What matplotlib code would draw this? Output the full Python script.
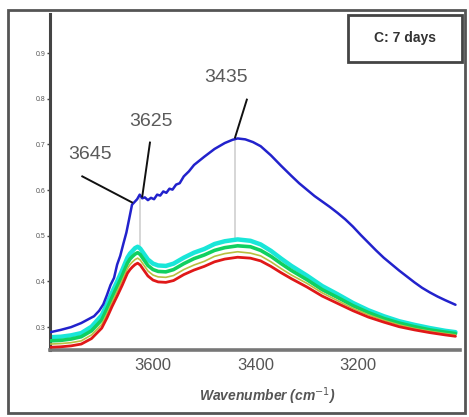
import matplotlib
matplotlib.use('Agg')
import matplotlib.pyplot as plt
from matplotlib.patches import Rectangle

plt.rcParams['font.family'] = ['Liberation Sans', 'DejaVu Sans']

# wavenumber grid shared by the four lower spectra (cm-1)
wn = [3800, 3780, 3760, 3740, 3720, 3700, 3690, 3680, 3670, 3660, 3650, 3645,
      3640, 3635, 3630, 3625, 3620, 3610, 3600, 3590, 3575, 3560, 3540, 3520,
      3500, 3480, 3460, 3435, 3410, 3390, 3370, 3350, 3330, 3300, 3270, 3240,
      3210, 3180, 3150, 3120, 3090, 3060, 3030, 3010]

cyan_abs = [0.278, 0.279, 0.282, 0.287, 0.301, 0.326, 0.350, 0.376, 0.400, 0.425,
            0.452, 0.461, 0.467, 0.473, 0.476, 0.472, 0.464, 0.448, 0.439, 0.435,
            0.434, 0.439, 0.452, 0.463, 0.471, 0.482, 0.488, 0.492, 0.489, 0.481,
            0.467, 0.450, 0.434, 0.413, 0.390, 0.372, 0.353, 0.337, 0.324, 0.313,
            0.305, 0.298, 0.292, 0.289]
green_abs = [0.270, 0.271, 0.274, 0.279, 0.292, 0.316, 0.340, 0.365, 0.389, 0.413,
             0.440, 0.449, 0.455, 0.460, 0.463, 0.459, 0.451, 0.435, 0.426, 0.422,
             0.421, 0.426, 0.439, 0.450, 0.458, 0.468, 0.474, 0.478, 0.476, 0.468,
             0.455, 0.439, 0.424, 0.404, 0.382, 0.365, 0.347, 0.332, 0.319, 0.309,
             0.301, 0.294, 0.289, 0.286]
yellow_abs = [0.263, 0.264, 0.266, 0.270, 0.283, 0.306, 0.329, 0.354, 0.378, 0.402,
              0.428, 0.437, 0.443, 0.448, 0.451, 0.447, 0.439, 0.423, 0.414, 0.410,
              0.409, 0.413, 0.426, 0.436, 0.444, 0.455, 0.461, 0.465, 0.462, 0.456,
              0.443, 0.428, 0.414, 0.396, 0.375, 0.358, 0.341, 0.327, 0.315, 0.305,
              0.297, 0.291, 0.286, 0.283]
red_abs = [0.256, 0.257, 0.259, 0.263, 0.275, 0.298, 0.320, 0.345, 0.368, 0.392,
           0.418, 0.426, 0.432, 0.437, 0.440, 0.436, 0.428, 0.412, 0.403, 0.399,
           0.398, 0.402, 0.415, 0.425, 0.433, 0.443, 0.449, 0.453, 0.451, 0.445,
           0.433, 0.419, 0.406, 0.388, 0.368, 0.352, 0.336, 0.322, 0.311, 0.301,
           0.294, 0.288, 0.283, 0.280]

# upper (blue) spectrum, sampled finer where it is noisy
blue_wn = [3800, 3780, 3760, 3740, 3725, 3715, 3705, 3697, 3690, 3683, 3676, 3670,
           3664, 3658, 3652, 3646, 3641, 3636, 3631, 3626, 3621, 3616, 3610, 3604,
           3598, 3592, 3586, 3580, 3574, 3568, 3562, 3555, 3548, 3540, 3530, 3520,
           3500, 3480, 3460, 3445, 3435, 3420, 3405, 3390, 3370, 3350, 3330, 3315,
           3300, 3285, 3270, 3255, 3240, 3225, 3210, 3195, 3180, 3165, 3150, 3135,
           3120, 3105, 3090, 3075, 3060, 3045, 3030, 3010]
blue_abs = [0.289, 0.294, 0.300, 0.309, 0.318, 0.324, 0.336, 0.350, 0.370, 0.392,
            0.408, 0.437, 0.456, 0.482, 0.507, 0.540, 0.568, 0.574, 0.580, 0.590,
            0.582, 0.584, 0.578, 0.583, 0.580, 0.590, 0.588, 0.597, 0.594, 0.603,
            0.601, 0.612, 0.615, 0.630, 0.641, 0.655, 0.673, 0.690, 0.703, 0.710,
            0.713, 0.711, 0.705, 0.696, 0.676, 0.653, 0.631, 0.615, 0.601, 0.587,
            0.575, 0.563, 0.550, 0.536, 0.520, 0.502, 0.485, 0.468, 0.452, 0.438,
            0.424, 0.411, 0.398, 0.386, 0.376, 0.367, 0.359, 0.349]

peaks = ['3645', '3625', '3435']
label_xy = [(3723, 0.678), (3604, 0.750), (3458, 0.846)]
line_from = [(3738, 0.630), (3606, 0.704), (3417, 0.798)]
line_to = [(3641, 0.573), (3621, 0.586), (3440, 0.715)]

fig = plt.figure(figsize=(4.69, 4.17), dpi=100)
ax = fig.add_axes([0.1066, 0.1607, 0.8744, 0.8053])

# faint guides dropped from the band maxima
ax.plot([3625, 3625], [0.475, 0.588], color='#d0d0d0', lw=1.2, zorder=1)
ax.plot([3440, 3440], [0.495, 0.712], color='#d0d0d0', lw=1.2, zorder=1)

kw = dict(solid_joinstyle='round', solid_capstyle='round')
ax.plot(wn, cyan_abs, color='#19e6d8', lw=3.2, zorder=2, **kw)
ax.plot(wn, green_abs, color='#10d060', lw=2.6, zorder=3, **kw)
ax.plot(wn, yellow_abs, color='#b8c040', lw=1.2, zorder=4, **kw)
ax.plot(wn, red_abs, color='#e01818', lw=2.0, zorder=5, **kw)
ax.plot(blue_wn, blue_abs, color='#2222cc', lw=1.8, zorder=6, **kw)

for txt, xy, p0, p1 in zip(peaks, label_xy, line_from, line_to):
    ax.text(xy[0], xy[1], txt, ha='center', va='center', fontsize=14, color='#5a5a5a')
    ax.plot([p0[0], p1[0]], [p0[1], p1[1]], color='#111111', lw=1.4, zorder=7)

ax.set_xlim(3801, 3001)
ax.set_ylim(0.25, 0.985)
ax.set_xticks([3600, 3400, 3200])
ax.set_xticklabels(['3600', '3400', '3200'], fontsize=12, color='#555555')
ax.set_yticks([0.3, 0.4, 0.5, 0.6, 0.7, 0.8, 0.9])
ax.set_yticklabels(['0.3', '0.4', '0.5', '0.6', '0.7', '0.8', '0.9'],
                   fontsize=5, color='#555555')
ax.tick_params(axis='x', length=0, pad=6)
ax.tick_params(axis='y', length=2, width=1, color='#444444', pad=1)
ax.spines['top'].set_visible(False)
ax.spines['right'].set_visible(False)
ax.spines['left'].set_color('#444444')
ax.spines['left'].set_linewidth(2.2)
ax.spines['bottom'].set_color('#777777')
ax.spines['bottom'].set_linewidth(2.6)
ax.set_xlabel('Wavenumber (cm$^{-1}$)', fontsize=10, style='italic',
              fontweight='bold', color='#555555', labelpad=3)
ax.xaxis.set_label_coords(0.53, -0.105)

# sample tag in the corner
fig.patches.append(Rectangle((0.742, 0.851), 0.243, 0.113, transform=fig.transFigure,
                             fill=False, ec='#444444', lw=2))
fig.text(0.8635, 0.909, 'C: 7 days', ha='center', va='center',
         fontsize=10, fontweight='bold', color='#333333')

# border round the whole figure
fig.patches.append(Rectangle((0.017, 0.0096), 0.974, 0.966, transform=fig.transFigure,
                             fill=False, ec='#555555', lw=2))

fig.savefig('out.png', dpi=100)
